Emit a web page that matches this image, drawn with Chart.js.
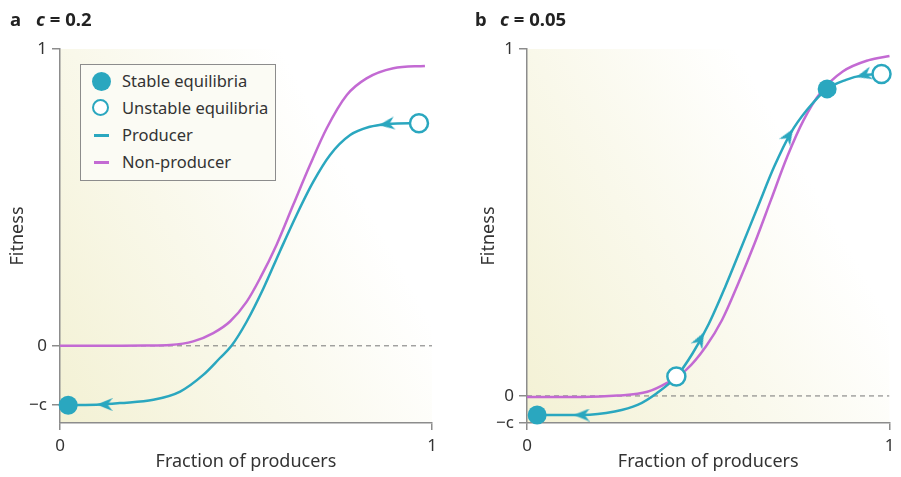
<!DOCTYPE html>
<html>
<head>
<meta charset="utf-8">
<script src="https://cdn.jsdelivr.net/npm/chart.js@4.4.1/dist/chart.umd.min.js"></script>
<style>
  html, body { margin: 0; padding: 0; background: #fff; }
  body { width: 901px; height: 477px; position: relative; overflow: hidden; font-family: "Noto Sans", sans-serif; color: #333; }
  .panel { position: absolute; top: 0; height: 477px; }
  .panel canvas { position: absolute; left: 0; top: 0; }
  .tag { position: absolute; top: 7px; font-size: 18.5px; font-weight: bold; color: #222; line-height: 24px; white-space: nowrap; }
  .tag i { font-style: italic; }
  .legend { position: absolute; left: 80px; top: 64px; width: 194px; height: 115px; border: 1px solid #8c8c8c; background: #fbfbf4; }
  .legend .row { position: absolute; left: 0; height: 26px; line-height: 26px; font-size: 16.5px; color: #333; white-space: nowrap; }
  .legend .sym { position: absolute; top: 13px; }
  .legend .txt { position: absolute; left: 41px; top: 0; }
</style>
</head>
<body>
<div class="panel" id="panel-a" style="left:0; width:450px;">
  <canvas id="chart-a" width="450" height="477"></canvas>
  <div class="tag" style="left:10px;">a</div>
  <div class="tag" style="left:36px;"><i>c</i> = 0.2</div>
  <div class="legend" id="legend-a"></div>
</div>
<div class="panel" id="panel-b" style="left:450px; width:451px;">
  <canvas id="chart-b" width="451" height="477"></canvas>
  <div class="tag" style="left:25px;">b</div>
  <div class="tag" style="left:50px;"><i>c</i> = 0.05</div>
</div>
<script>
// Renkler / fontlar
const TEAL = '#2aa7bf';
const PURPLE = '#c36ad3';
const AXIS = '#8c8c8c';
const TEXT = '#333333';
const FONT = '"Noto Sans", sans-serif';

// Ortak eksen
const xTickValues = [0, 1];
const xTickLabels = ['0', '1'];
const yTickLabels = ['\u2212c', '0', '1'];
const zeroLineX = [0, 1];
const zeroLineY = [0, 0];

// Panel a (c = 0.2)
const aYMin = -0.26;
const aYTickValues = [-0.2, 0, 1];
const aNonProducerX = [0, 0.1, 0.161, 0.23, 0.296, 0.358, 0.412, 0.457, 0.502, 0.538, 0.582, 0.627, 0.672, 0.717, 0.771, 0.824, 0.896, 0.981];
const aNonProducerY = [0, 0, 0.0003, 0.001, 0.003, 0.015, 0.043, 0.082, 0.149, 0.228, 0.340, 0.475, 0.609, 0.733, 0.845, 0.901, 0.935, 0.943];
const aProducerX = [0.022, 0.108, 0.161, 0.251, 0.323, 0.385, 0.430, 0.461, 0.502, 0.547, 0.591, 0.636, 0.681, 0.726, 0.780, 0.833, 0.878, 0.941, 0.965];
const aProducerY = [-0.2, -0.198, -0.193, -0.182, -0.154, -0.098, -0.041, 0, 0.082, 0.194, 0.318, 0.441, 0.553, 0.643, 0.710, 0.738, 0.747, 0.750, 0.750];
const aStableX = [0.022];
const aStableY = [-0.2];
const aUnstableX = [0.965];
const aUnstableY = [0.750];
const aArrowX = [0.12, 0.878];
const aArrowY = [-0.198, 0.747];
const aArrowAngle = [180, 172];

// Panel b (c = 0.05)
const bYMin = -0.078;
const bYTickValues = [-0.078, 0, 1];
const bNonProducerX = [0, 0.15, 0.25, 0.332, 0.385, 0.439, 0.493, 0.538, 0.583, 0.628, 0.673, 0.718, 0.763, 0.808, 0.871, 0.943, 1.0];
const bNonProducerY = [-0.003, -0.003, 0.001, 0.012, 0.037, 0.075, 0.142, 0.219, 0.325, 0.440, 0.565, 0.690, 0.795, 0.872, 0.935, 0.968, 0.980];
const bProducerX = [0.028, 0.152, 0.242, 0.305, 0.358, 0.412, 0.457, 0.502, 0.547, 0.592, 0.637, 0.682, 0.727, 0.772, 0.828, 0.880, 0.925, 0.978];
const bProducerY = [-0.055, -0.055, -0.045, -0.026, 0.008, 0.056, 0.123, 0.209, 0.315, 0.430, 0.546, 0.661, 0.757, 0.824, 0.885, 0.911, 0.924, 0.928];
const bStableX = [0.028, 0.828];
const bStableY = [-0.055, 0.885];
const bUnstableX = [0.412, 0.978];
const bUnstableY = [0.056, 0.928];
const bArrowX = [0.151, 0.478, 0.722, 0.929];
const bArrowY = [-0.055, 0.163, 0.750, 0.925];
const bArrowAngle = [180, -62, -58, 165];

// Legend öğeleri
const legendLabels = ['Stable equilibria', 'Unstable equilibria', 'Producer', 'Non-producer'];

const toPoints = (xs, ys) => xs.map((x, i) => ({ x, y: ys[i] }));

// Ok başı (sağa bakan), pointRotation ile döndürülüyor
function makeArrowHead(color) {
    const c = document.createElement('canvas');
    c.width = 16; c.height = 13;
    const g = c.getContext('2d');
    g.fillStyle = color;
    g.beginPath();
    g.moveTo(16, 6.5);
    g.lineTo(0, 0);
    g.lineTo(5, 6.5);
    g.lineTo(0, 13);
    g.closePath();
    g.fill();
    return c;
}
const arrowHead = makeArrowHead(TEAL);

// Arka plan gradyanı
const backgroundPlugin = {
    id: 'bgGradient',
    beforeDraw(chart) {
        const { ctx, chartArea: a } = chart;
        const h = a.bottom - a.top;
        const grad = ctx.createLinearGradient(a.left, a.bottom, a.right, a.top + h * 0.45);
        grad.addColorStop(0, '#f3f1d4');
        grad.addColorStop(0.45, '#f9f8ea');
        grad.addColorStop(0.88, '#ffffff');
        ctx.save();
        ctx.fillStyle = grad;
        ctx.fillRect(a.left, a.top, a.right - a.left, h);
        ctx.restore();
    }
};

function buildPanel(canvasId, p) {
    const datasets = [
        {
            label: 'Stable equilibria',
            data: toPoints(p.stableX, p.stableY),
            pointRadius: 9.5,
            pointBackgroundColor: TEAL,
            pointBorderWidth: 0,
            clip: false
        },
        {
            label: 'Unstable equilibria',
            data: toPoints(p.unstableX, p.unstableY),
            pointRadius: 9,
            pointBackgroundColor: '#ffffff',
            pointBorderColor: TEAL,
            pointBorderWidth: 2.5,
            clip: false
        },
        {
            label: 'arrows',
            data: toPoints(p.arrowX, p.arrowY),
            pointStyle: arrowHead,
            pointRadius: 6,
            pointRotation: p.arrowAngle,
            clip: false
        },
        {
            label: 'Producer',
            data: toPoints(p.producerX, p.producerY),
            showLine: true,
            borderColor: TEAL,
            borderWidth: 2.5,
            pointRadius: 0,
            cubicInterpolationMode: 'monotone',
            clip: false
        },
        {
            label: 'Non-producer',
            data: toPoints(p.nonProducerX, p.nonProducerY),
            showLine: true,
            borderColor: PURPLE,
            borderWidth: 2.5,
            pointRadius: 0,
            cubicInterpolationMode: 'monotone',
            clip: false
        },
        {
            label: 'zero',
            data: toPoints(zeroLineX, zeroLineY),
            showLine: true,
            borderColor: '#777777',
            borderWidth: 1,
            borderDash: [5, 4],
            pointRadius: 0
        }
    ];

    return new Chart(document.getElementById(canvasId), {
        type: 'scatter',
        data: { datasets },
        options: {
            responsive: false,
            animation: false,
            events: [],
            layout: { padding: { top: 49, right: p.padRight, bottom: 0, left: 0 } },
            plugins: { legend: { display: false }, tooltip: { enabled: false } },
            scales: {
                x: {
                    type: 'linear',
                    min: 0, max: 1,
                    afterBuildTicks: (s) => { s.ticks = xTickValues.map(v => ({ value: v })); },
                    afterFit: (s) => { s.height = 54; s.paddingLeft = 0; s.paddingRight = 0; },
                    ticks: {
                        callback: (v, i) => xTickLabels[i],
                        color: TEXT, padding: 6, maxRotation: 0,
                        font: { family: FONT, size: 17 }
                    },
                    grid: { drawOnChartArea: false, drawTicks: true, tickLength: 7, color: AXIS, lineWidth: 1.5 },
                    border: { display: true, color: AXIS, width: 1.5 },
                    title: {
                        display: true, text: 'Fraction of producers', color: TEXT,
                        font: { family: FONT, size: 18 }, padding: { top: 0, bottom: 4 }
                    }
                },
                y: {
                    type: 'linear',
                    min: p.yMin, max: 1,
                    afterBuildTicks: (s) => { s.ticks = p.yTicks.map(v => ({ value: v })); },
                    afterFit: (s) => { s.width = p.yWidth; },
                    ticks: {
                        callback: (v, i) => yTickLabels[i],
                        color: TEXT, padding: 5,
                        font: { family: FONT, size: 17 }
                    },
                    grid: { drawOnChartArea: false, drawTicks: true, tickLength: 8, color: AXIS, lineWidth: 1.5 },
                    border: { display: true, color: AXIS, width: 1.5 },
                    title: {
                        display: true, text: 'Fitness', color: TEXT,
                        font: { family: FONT, size: 18 }, padding: { top: p.yTitlePad, bottom: 0 }
                    }
                }
            }
        },
        plugins: [backgroundPlugin]
    });
}

const chartA = buildPanel('chart-a', {
    yMin: aYMin, yTicks: aYTickValues, yWidth: 60, yTitlePad: 7, padRight: 18,
    stableX: aStableX, stableY: aStableY, unstableX: aUnstableX, unstableY: aUnstableY,
    arrowX: aArrowX, arrowY: aArrowY, arrowAngle: aArrowAngle,
    producerX: aProducerX, producerY: aProducerY,
    nonProducerX: aNonProducerX, nonProducerY: aNonProducerY
});

const chartB = buildPanel('chart-b', {
    yMin: bYMin, yTicks: bYTickValues, yWidth: 77, yTitlePad: 28, padRight: 3,
    stableX: bStableX, stableY: bStableY, unstableX: bUnstableX, unstableY: bUnstableY,
    arrowX: bArrowX, arrowY: bArrowY, arrowAngle: bArrowAngle,
    producerX: bProducerX, producerY: bProducerY,
    nonProducerX: bNonProducerX, nonProducerY: bNonProducerY
});

// HTML legend (panel a), stiller dataset'lerden
function buildLegend(chart, el) {
    const ds = chart.data.datasets;
    legendLabels.forEach((label, i) => {
        const d = ds.find(x => x.label === label);
        const row = document.createElement('div');
        row.className = 'row';
        row.style.top = (3 + i * 27) + 'px';
        const sym = document.createElement('div');
        sym.className = 'sym';
        if (d.showLine) {
            sym.style.cssText = `left:13px; top:12px; width:15px; height:2.5px; background:${d.borderColor};`;
        } else {
            const r = d.pointRadius;
            const bw = d.pointBorderWidth || 0;
            sym.style.cssText = `left:${20 - r}px; top:${13 - r}px; width:${2 * r - 2 * bw}px; height:${2 * r - 2 * bw}px;` +
                `border-radius:50%; background:${d.pointBackgroundColor}; border:${bw}px solid ${d.pointBorderColor || d.pointBackgroundColor};`;
        }
        const txt = document.createElement('div');
        txt.className = 'txt';
        txt.textContent = label;
        row.appendChild(sym);
        row.appendChild(txt);
        el.appendChild(row);
    });
}
buildLegend(chartA, document.getElementById('legend-a'));
</script>
</body>
</html>
